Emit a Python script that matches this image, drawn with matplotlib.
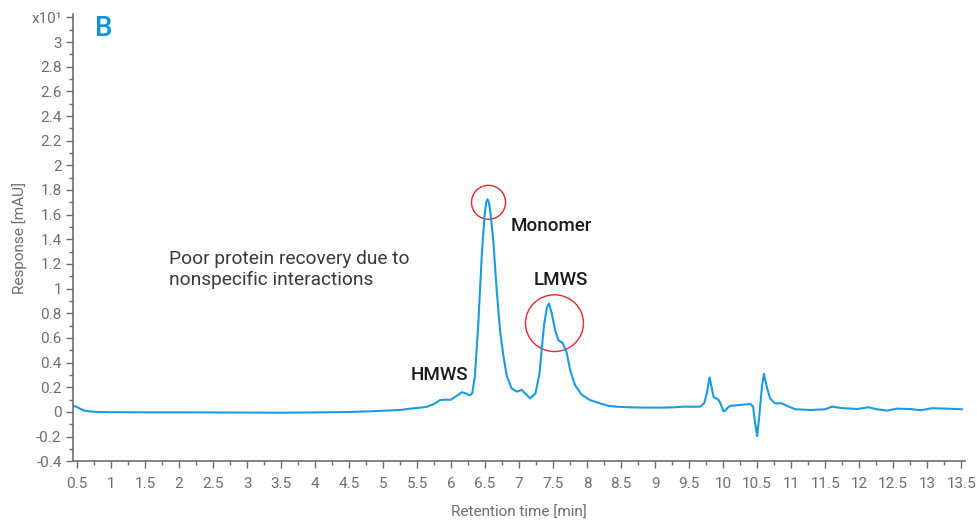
import matplotlib
matplotlib.use("Agg")
import matplotlib.pyplot as plt
from matplotlib.patches import Ellipse
from matplotlib.ticker import MultipleLocator, FuncFormatter

plt.rcParams["font.family"] = ["Roboto", "DejaVu Sans"]
plt.rcParams["axes.unicode_minus"] = False

# chromatogram trace (time in min, response in x10 mAU)
time_min = [0.44, 0.5, 0.55, 0.6, 0.7, 0.8, 1.0, 1.5, 2.0, 2.5, 3.0, 3.5, 4.0, 4.5,
            4.8, 5.0, 5.25, 5.4, 5.55, 5.65, 5.75, 5.84, 5.92, 5.99, 6.08, 6.16,
            6.22, 6.27, 6.31, 6.35, 6.40, 6.45, 6.49, 6.515, 6.535, 6.555, 6.58,
            6.62, 6.67, 6.72, 6.77, 6.82, 6.89, 6.97, 7.04, 7.07, 7.11, 7.16,
            7.24, 7.30, 7.33, 7.37, 7.41, 7.44, 7.48, 7.53, 7.58, 7.64, 7.70,
            7.75, 7.82, 7.92, 8.04, 8.19, 8.31, 8.45, 8.61, 8.8, 9.07, 9.3, 9.42,
            9.55, 9.66, 9.72, 9.76, 9.80, 9.83, 9.86, 9.9, 9.93, 9.96, 10.0,
            10.02, 10.06, 10.10, 10.25, 10.40, 10.44, 10.47, 10.50, 10.53, 10.57,
            10.60, 10.64, 10.69, 10.76, 10.86, 10.94, 11.06, 11.28, 11.5, 11.6,
            11.74, 11.97, 12.14, 12.26, 12.41, 12.55, 12.75, 12.90, 13.07, 13.29,
            13.51]
response = [0.05, 0.04, 0.025, 0.012, 0.004, 0.0, -0.002, -0.003, -0.003, -0.004,
            -0.005, -0.006, -0.004, 0.0, 0.005, 0.01, 0.016, 0.027, 0.035, 0.043,
            0.065, 0.097, 0.1, 0.098, 0.13, 0.16, 0.15, 0.135, 0.15, 0.29, 0.72,
            1.26, 1.58, 1.70, 1.725, 1.70, 1.61, 1.39, 0.99, 0.66, 0.45, 0.29,
            0.19, 0.165, 0.18, 0.16, 0.14, 0.11, 0.15, 0.31, 0.50, 0.72, 0.85,
            0.88, 0.80, 0.66, 0.58, 0.56, 0.48, 0.34, 0.22, 0.14, 0.097, 0.07,
            0.05, 0.042, 0.038, 0.036, 0.035, 0.038, 0.043, 0.042, 0.043, 0.07,
            0.15, 0.28, 0.2, 0.12, 0.11, 0.10, 0.07, 0.01, 0.005, 0.03, 0.049,
            0.057, 0.065, 0.043, -0.09, -0.195, -0.04, 0.205, 0.31, 0.205, 0.11,
            0.07, 0.07, 0.049, 0.022, 0.016, 0.022, 0.043, 0.032, 0.024, 0.038,
            0.022, 0.011, 0.027, 0.024, 0.014, 0.03, 0.027, 0.022]

# annotations: (label, time, response)
peak_labels = [("Monomer", 6.87, 1.51), ("LMWS", 7.21, 1.07), ("HMWS", 5.41, 0.30)]
# circles: (centre time, centre response, width, height)
circles = [(6.55, 1.70, 0.50, 0.276), (7.52, 0.72, 0.853, 0.46)]

gray = "#6e6e6e"
blue = "#1b9be0"

fig = plt.figure(figsize=(9.78, 5.21), dpi=100)
ax = fig.add_axes([0.0746, 0.1146, 0.9124, 0.858])

ax.plot(time_min, response, color=blue, lw=1.5)

for cx, cy, w, h in circles:
    ax.add_patch(Ellipse((cx, cy), w, h, fill=False, edgecolor="#e0282e", lw=1.0))

for label, tx, ty in peak_labels:
    ax.text(tx, ty, label, fontsize=13.5, fontweight="medium", color="#1a1a1a",
            ha="left", va="center")

ax.text(1.85, 1.31, "Poor protein recovery due to\nnonspecific interactions",
        fontsize=13.8, color="#3a3a3a", ha="left", va="top", linespacing=1.2)
ax.text(0.76, 3.11, "B", fontsize=20, fontweight="medium", color="#0a96d8",
        ha="left", va="center")

ax.set_xlim(0.44, 13.56)
ax.set_ylim(-0.4, 3.225)
ax.xaxis.set_major_locator(MultipleLocator(0.5))
ax.xaxis.set_minor_locator(MultipleLocator(0.25))
ax.yaxis.set_major_locator(MultipleLocator(0.2))
ax.yaxis.set_minor_locator(MultipleLocator(0.1))


def ylabel_fmt(v, pos):
    if abs(v - 3.2) < 1e-6:
        return "x10¹"
    return f"{round(v, 2):g}"


ax.xaxis.set_major_formatter(FuncFormatter(lambda v, p: f"{round(v, 2):g}"))
ax.yaxis.set_major_formatter(FuncFormatter(ylabel_fmt))

for side in ["top", "right"]:
    ax.spines[side].set_visible(False)
for side in ["left", "bottom"]:
    ax.spines[side].set_color(gray)
    ax.spines[side].set_linewidth(1.2)

ax.tick_params(which="major", length=5, width=1, color=gray, labelcolor=gray,
               labelsize=11, pad=3)
ax.tick_params(axis="x", which="major", pad=6)
ax.tick_params(which="minor", length=3, width=1, color=gray)

ax.set_xlabel("Retention time [min]", fontsize=11, color=gray)
ax.set_ylabel("Response [mAU]", fontsize=11, color=gray)
ax.xaxis.set_label_coords(0.5, -0.1)
ax.yaxis.set_label_coords(-0.052, 0.5)

fig.savefig("out.png", dpi=100)
